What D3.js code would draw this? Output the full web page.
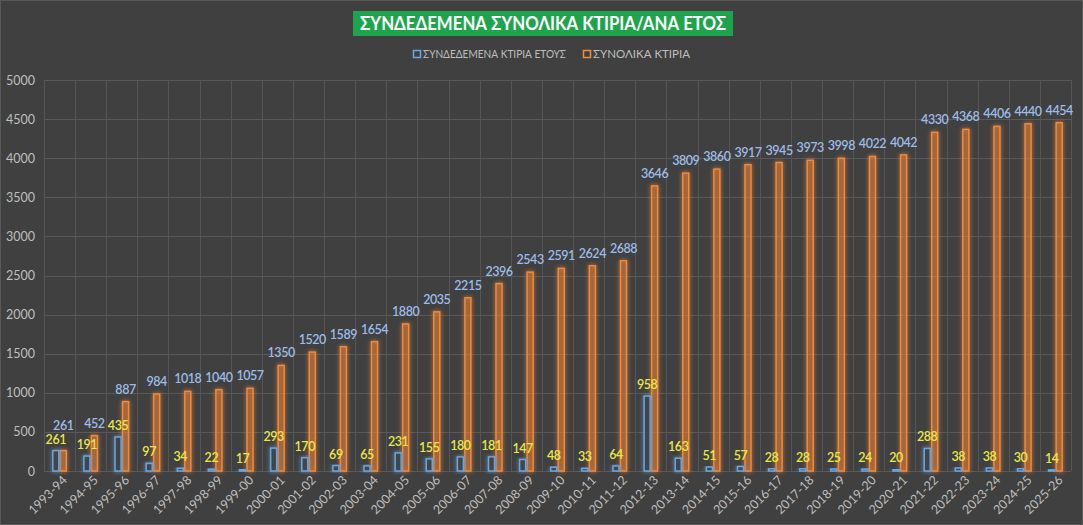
<!DOCTYPE html>
<html><head><meta charset="utf-8">
<script src="https://cdn.jsdelivr.net/npm/d3@7"></script>
<style>
html,body{margin:0;padding:0;background:#404040;}
svg{display:block;}
</style></head><body>
<svg id="chart" width="1083" height="525"></svg>
<script>
const categories = ["1993-94","1994-95","1995-96","1996-97","1997-98","1998-99","1999-00","2000-01","2001-02","2002-03","2003-04","2004-05","2005-06","2006-07","2007-08","2008-09","2009-10","2010-11","2011-12","2012-13","2013-14","2014-15","2015-16","2016-17","2017-18","2018-19","2019-20","2020-21","2021-22","2022-23","2023-24","2024-25","2025-26"];
const yearlyValues = [261,191,435,97,34,22,17,293,170,69,65,231,155,180,181,147,48,33,64,958,163,51,57,28,28,25,24,20,288,38,38,30,14];
const totalValues = [261,452,887,984,1018,1040,1057,1350,1520,1589,1654,1880,2035,2215,2396,2543,2591,2624,2688,3646,3809,3860,3917,3945,3973,3998,4022,4042,4330,4368,4406,4440,4454];
const yTicks = [0,500,1000,1500,2000,2500,3000,3500,4000,4500,5000];
const seriesNames = ["ΣΥΝΔΕΔΕΜΕΝΑ ΚΤΙΡΙΑ ΕΤΟΥΣ","ΣΥΝΟΛΙΚΑ ΚΤΙΡΙΑ"];
const titleText = "ΣΥΝΔΕΔΕΜΕΝΑ ΣΥΝΟΛΙΚΑ ΚΤΙΡΙΑ/ΑΝΑ ΕΤΟΣ";

const W = 1083, H = 525;
const m = {left:44, right:12, top:80, bottom:54};
const svg = d3.select("#chart");
const font = "Lato, 'Open Sans', sans-serif";

svg.append("rect").attr("x",0.5).attr("y",0.5).attr("width",W-1).attr("height",H-1)
  .attr("fill","#404040").attr("stroke","#595959");

const defs = svg.append("defs");
function glow(id){
  const f = defs.append("filter").attr("id",id).attr("x","-100%").attr("y","-20%").attr("width","300%").attr("height","140%");
  f.append("feGaussianBlur").attr("in","SourceGraphic").attr("stdDeviation",2.2).attr("result","b");
  const mg = f.append("feMerge");
  mg.append("feMergeNode").attr("in","b");
  mg.append("feMergeNode").attr("in","SourceGraphic");
}
glow("glowB");
glow("glowO");

const x = d3.scaleBand().domain(categories).range([m.left, W-m.right]).paddingInner(0).paddingOuter(0);
const y = d3.scaleLinear().domain([0,5000]).range([H-m.bottom, m.top]);
const sub = d3.scaleBand().domain(["y","t"]).range([0,15]);
const off = (x.bandwidth()-15)/2;

// gridlines
const g = svg.append("g");
g.selectAll("line.h").data(yTicks).join("line")
  .attr("x1",m.left).attr("x2",W-m.right).attr("y1",d=>Math.round(y(d))+0.5).attr("y2",d=>Math.round(y(d))+0.5)
  .attr("stroke","#595959").attr("stroke-width",1);
const vb = categories.map(c=>x(c)).concat([W-m.right]);
g.selectAll("line.v").data(vb).join("line")
  .attr("x1",d=>Math.round(d)+0.5).attr("x2",d=>Math.round(d)+0.5).attr("y1",y(5000)).attr("y2",y(0))
  .attr("stroke","#555555").attr("stroke-width",1);

// y axis labels
const ya = svg.append("g").attr("transform",`translate(${m.left},0)`)
  .call(d3.axisLeft(y).tickValues(yTicks).tickFormat(d3.format("d")).tickSize(0).tickPadding(9));
ya.select(".domain").remove();
ya.selectAll("text").attr("fill","#bfbfbf").style("font-family",font).style("font-size","12.5px");

// x axis labels
const xa = svg.append("g").attr("transform",`translate(0,${y(0)})`)
  .call(d3.axisBottom(x).tickSize(0).tickPadding(6));
xa.select(".domain").remove();
xa.selectAll("text").attr("fill","#bfbfbf").style("font-family",font).style("font-size","12.5px")
  .attr("text-anchor","end").attr("dx","-0.1em").attr("dy","0.55em").attr("transform","rotate(-45)");

// bars
const data = categories.map((c,i)=>({c, yv:yearlyValues[i], tv:totalValues[i]}));
const bars = svg.append("g");
bars.selectAll("rect.o").data(data).join("rect")
  .attr("x",d=>x(d.c)+off+sub("t")+0.75).attr("width",sub.bandwidth()-1.5)
  .attr("y",d=>y(d.tv)).attr("height",d=>y(0)-y(d.tv))
  .attr("fill","rgba(237,125,49,0.28)").attr("stroke","#f08a3c").attr("stroke-width",1.5)
  .attr("filter","url(#glowO)");
bars.selectAll("rect.b").data(data).join("rect")
  .attr("x",d=>x(d.c)+off+sub("y")+0.75).attr("width",sub.bandwidth()-1.5)
  .attr("y",d=>y(d.yv)).attr("height",d=>y(0)-y(d.yv))
  .attr("fill","rgba(64,64,64,0.9)").attr("stroke","#6aa6e0").attr("stroke-width",1.5)
  .attr("filter","url(#glowB)");

// labels
const lab = svg.append("g").style("font-family",font).style("font-size","12.5px").style("font-weight","600")
  .style("letter-spacing","-0.45px");
lab.selectAll("text.y").data(data).join("text")
  .attr("x",d=>x(d.c)+off+sub("y")+sub.bandwidth()/2).attr("y",d=>y(d.yv)-7)
  .attr("text-anchor","middle").attr("fill","#e8e84a").text(d=>d.yv);
lab.selectAll("text.t").data(data).join("text")
  .attr("x",d=>x(d.c)+off+sub("t")+sub.bandwidth()/2)
  .attr("y",d=>{ let ty=y(d.tv)-8; const yy=y(d.yv)-7; if(Math.abs(ty-yy)<14) ty=yy-14; return ty; })
  .attr("text-anchor","middle").attr("fill","#9dbbe6").text(d=>d.tv);

// title
const tg = svg.append("g");
tg.append("rect").attr("x",353).attr("y",11).attr("width",380).attr("height",25).attr("fill","#1ea44c");
tg.append("text").attr("x",543).attr("y",30).attr("text-anchor","middle").attr("fill","#ffffff")
  .attr("textLength",366).attr("lengthAdjust","spacingAndGlyphs")
  .style("font-family",font).style("font-weight","bold").style("font-size","18px").text(titleText);

// legend
const lg = svg.append("g").style("font-family",font).style("font-size","11px");
const legendItems = [{n:seriesNames[0], c:"#6aa6e0", x:413, w:143},{n:seriesNames[1], c:"#f08a3c", x:583, w:97}];
legendItems.forEach(it=>{
  lg.append("rect").attr("x",it.x+0.5).attr("y",50.5).attr("width",7).attr("height",7)
    .attr("fill","none").attr("stroke",it.c).attr("stroke-width",1.5);
  lg.append("text").attr("x",it.x+10).attr("y",58).attr("fill","#bfbfbf")
    .attr("textLength",it.w).attr("lengthAdjust","spacingAndGlyphs").text(it.n);
});
</script>
</body></html>
